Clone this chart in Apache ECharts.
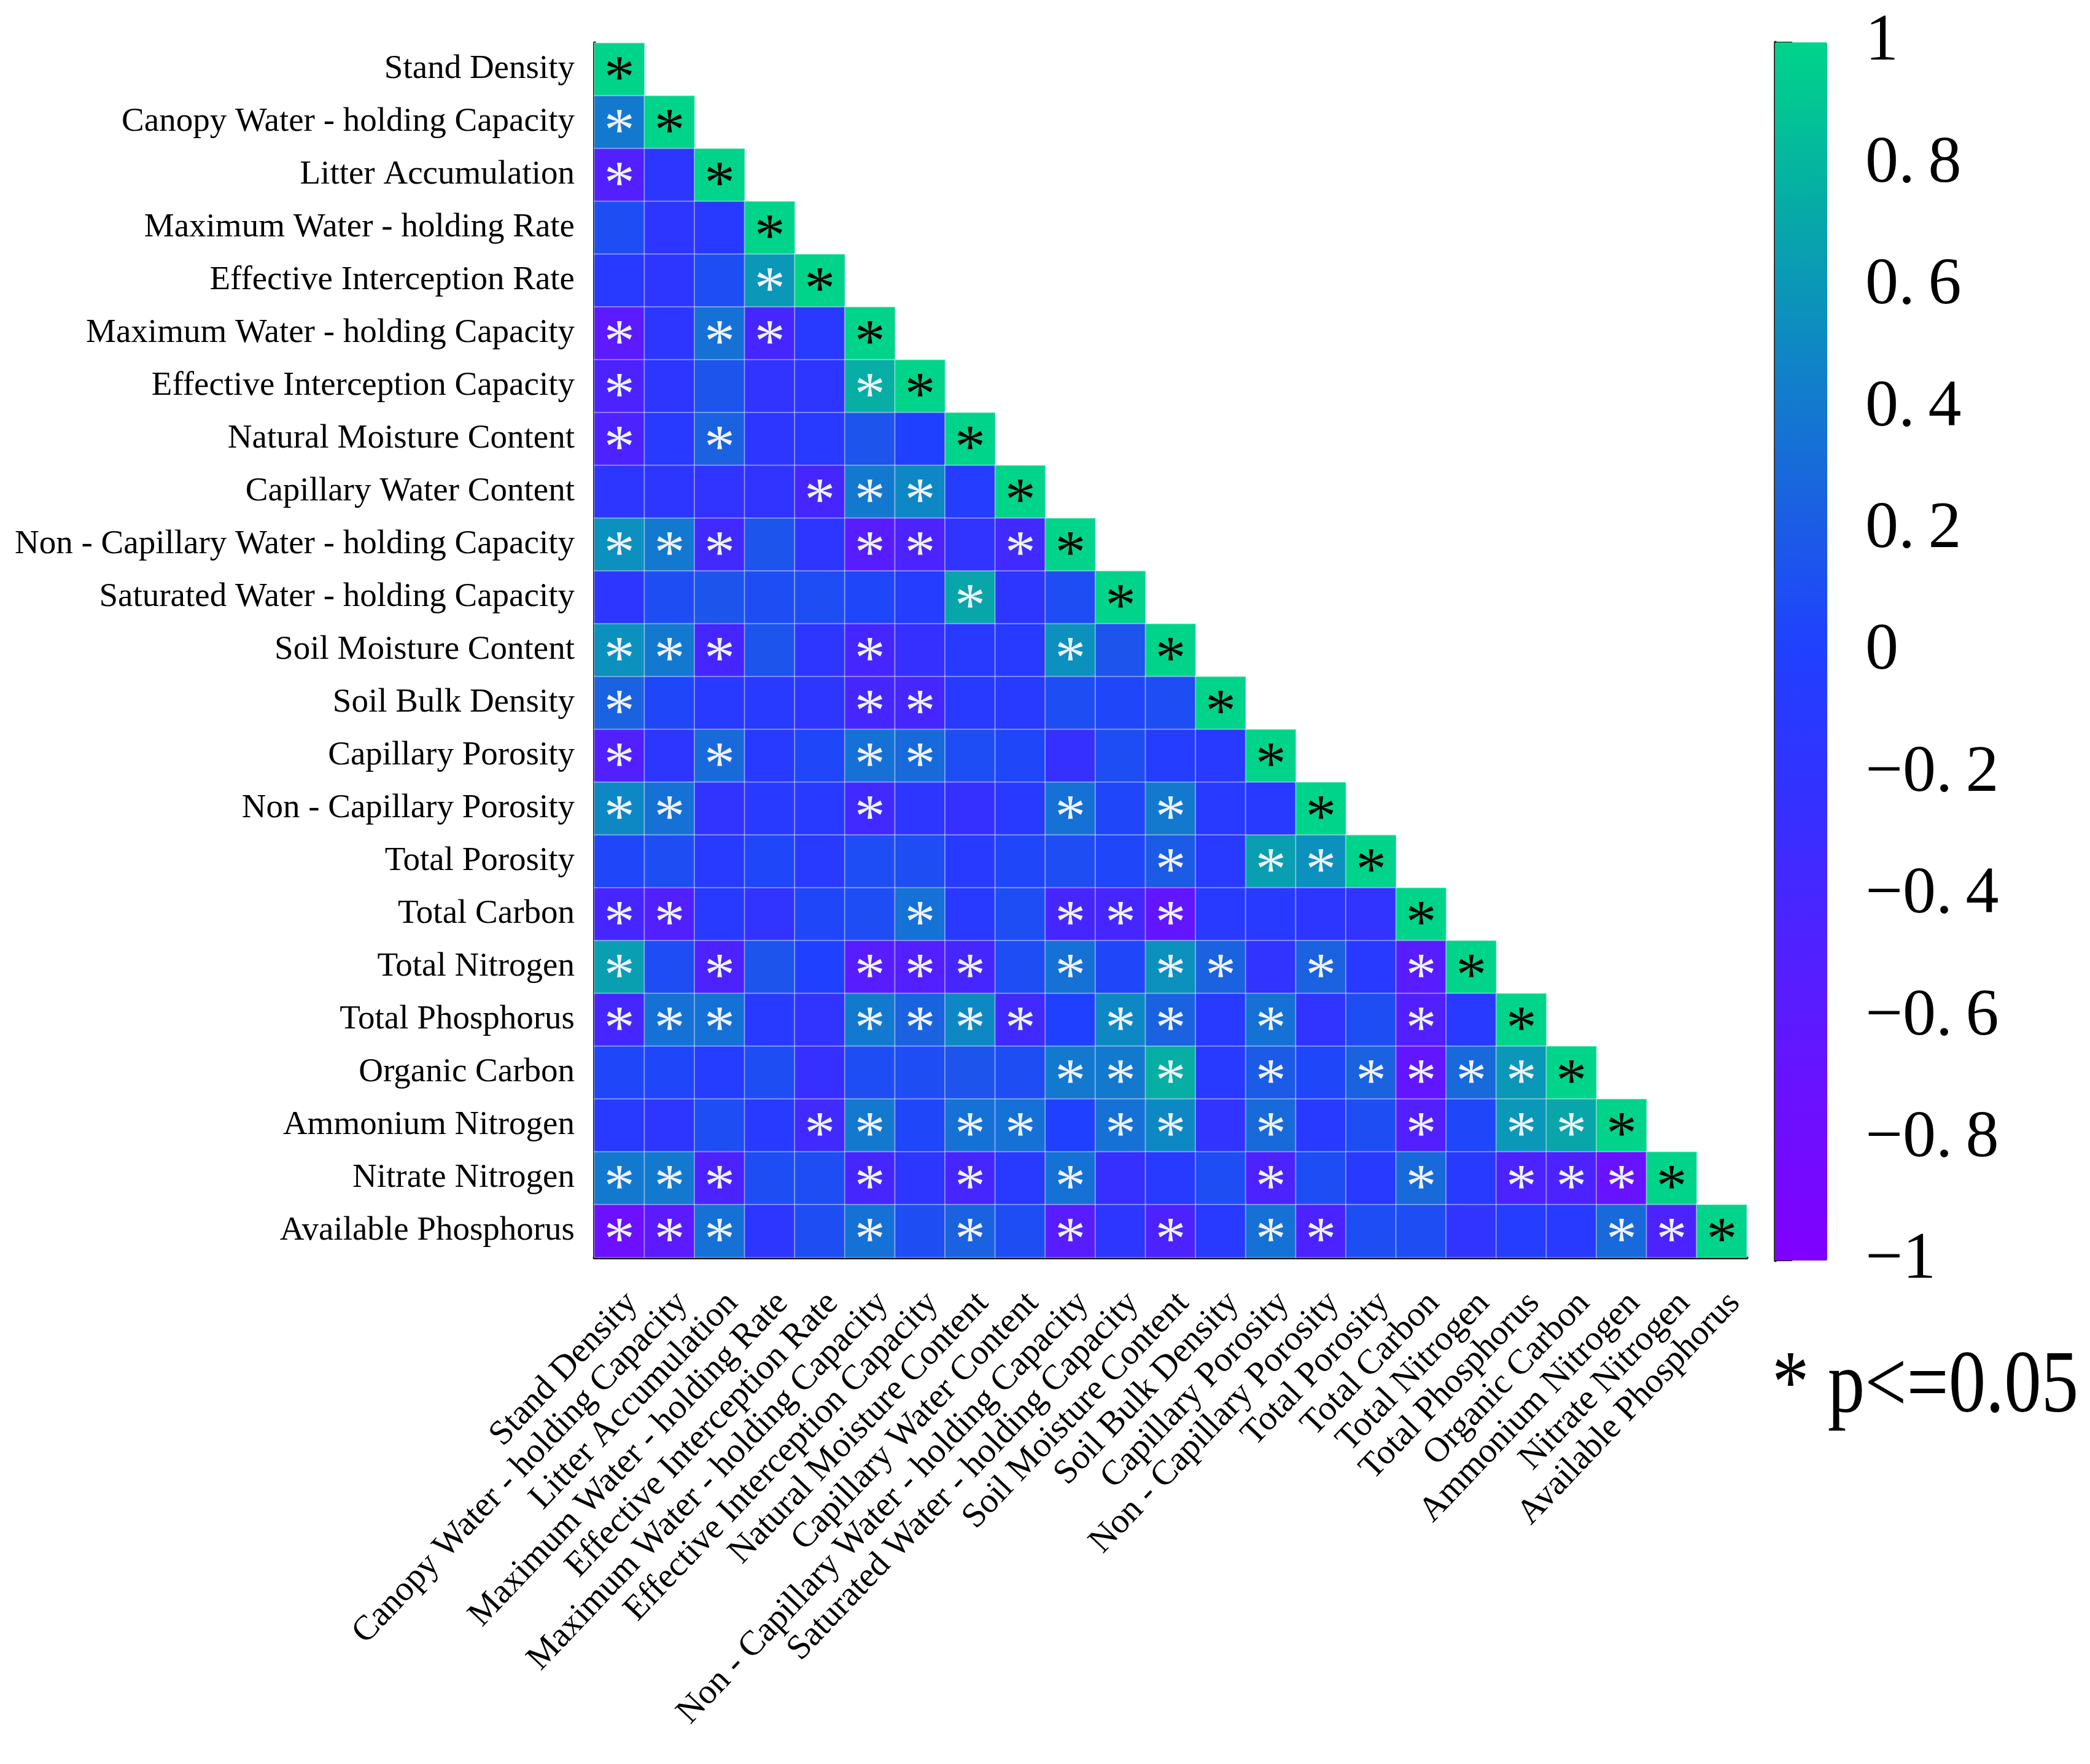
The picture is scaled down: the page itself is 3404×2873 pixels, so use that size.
<!DOCTYPE html>
<html>
<head>
<meta charset="utf-8">
<script src="https://cdn.jsdelivr.net/npm/echarts@6/dist/echarts.min.js"></script>
<style>
html,body{margin:0;padding:0;background:#fff;}
#c{width:3404px;height:2873px;}
</style>
</head>
<body>
<div id="c"></div>
<script>
const variables = [
  'Stand Density','Canopy Water - holding Capacity','Litter Accumulation','Maximum Water - holding Rate',
  'Effective Interception Rate','Maximum Water - holding Capacity','Effective Interception Capacity',
  'Natural Moisture Content','Capillary Water Content','Non - Capillary Water - holding Capacity',
  'Saturated Water - holding Capacity','Soil Moisture Content','Soil Bulk Density','Capillary Porosity',
  'Non - Capillary Porosity','Total Porosity','Total Carbon','Total Nitrogen','Total Phosphorus',
  'Organic Carbon','Ammonium Nitrogen','Nitrate Nitrogen','Available Phosphorus'
];

// lower-triangle correlation rows (row i has columns 0..i)
const corrRows = [
  [1],
  [0.4, 1],
  [-0.5, -0.15, 1],
  [0.1, -0.15, -0.1, 1],
  [-0.1, -0.15, 0.1, 0.6, 1],
  [-0.6, -0.15, 0.35, -0.4, -0.1, 1],
  [-0.45, -0.15, 0.15, -0.2, -0.15, 0.75, 1],
  [-0.45, -0.1, 0.25, -0.15, -0.1, 0.15, 0.0, 1],
  [-0.15, -0.15, -0.2, -0.2, -0.4, 0.4, 0.5, -0.05, 1],
  [0.55, 0.4, -0.35, 0.15, -0.15, -0.55, -0.45, -0.2, -0.35, 1],
  [-0.15, 0.1, 0.15, 0.1, 0.1, 0.05, -0.05, 0.7, -0.15, 0.1, 1],
  [0.55, 0.4, -0.4, 0.15, -0.15, -0.4, -0.25, -0.1, -0.1, 0.55, 0.15, 1],
  [0.25, 0.05, -0.1, -0.1, -0.15, -0.4, -0.4, -0.1, -0.1, 0.1, 0.05, 0.1, 1],
  [-0.5, -0.15, 0.3, -0.1, 0.05, 0.35, 0.3, 0.1, 0.05, -0.25, 0.1, -0.05, -0.1, 1],
  [0.5, 0.35, -0.2, -0.1, -0.1, -0.35, -0.15, -0.25, -0.1, 0.35, 0.05, 0.4, -0.1, -0.1, 1],
  [0.05, 0.1, -0.1, 0.05, -0.1, 0.1, 0.1, -0.1, 0.05, 0.1, 0.05, 0.2, -0.1, 0.65, 0.55, 1],
  [-0.4, -0.5, -0.1, -0.2, 0.05, 0.1, 0.35, -0.1, 0.1, -0.4, -0.4, -0.65, -0.1, -0.1, -0.15, -0.2, 1],
  [0.65, 0.1, -0.45, 0.15, 0, -0.55, -0.5, -0.4, 0.1, 0.35, 0.05, 0.55, 0.25, -0.2, 0.25, -0.1, -0.55, 1],
  [-0.4, 0.35, 0.35, -0.1, -0.2, 0.4, 0.25, 0.5, -0.35, 0, 0.5, 0.25, -0.1, 0.35, -0.2, 0.1, -0.5, -0.1, 1],
  [0.05, 0.05, -0.05, 0.1, -0.25, 0.1, 0.1, 0.15, 0.1, 0.4, 0.4, 0.75, -0.1, 0.2, 0.05, 0.25, -0.65, 0.3, 0.6, 1],
  [-0.1, -0.15, 0.1, -0.1, -0.35, 0.4, 0.05, 0.35, 0.35, 0, 0.35, 0.5, -0.2, 0.3, -0.1, 0.1, -0.5, 0.05, 0.6, 0.7, 1],
  [0.4, 0.4, -0.45, 0.1, 0.1, -0.4, -0.15, -0.4, -0.1, 0.35, -0.25, -0.1, 0.1, -0.45, 0.1, -0.1, 0.3, -0.1, -0.45, -0.45, -0.7, 1],
  [-0.75, -0.6, 0.35, -0.15, 0.1, 0.35, 0.1, 0.25, 0.1, -0.55, -0.15, -0.45, -0.1, 0.35, -0.45, 0.1, 0.1, -0.2, -0.05, -0.1, 0.3, -0.45, 1]
];

// significant (p<=0.05) column indices per row (diagonal always marked)
const sigCols = [
  [], [0], [0], [], [3], [0,2,3], [0,5], [0,2], [4,5,6], [0,1,2,5,6,8], [7],
  [0,1,2,5,9], [0,5,6], [0,2,5,6], [0,1,5,9,11], [11,13,14], [0,1,6,9,10,11],
  [0,2,5,6,7,9,11,12,14,16], [0,1,2,5,6,7,8,10,11,13,16], [9,10,11,13,15,16,17,18],
  [4,5,7,8,10,11,13,16,18,19], [0,1,2,5,7,9,13,16,18,19,20], [0,1,2,5,7,9,11,13,14,20,21]
];

const colorbarTicks = [-1,-0.8,-0.6,-0.4,-0.2,0,0.2,0.4,0.6,0.8,1];
const colorStops = ['#8000ff','#6c10ff','#5220ff','#3530ff','#2040ff','#1a62e0','#0e88c4','#06aea4','#00d48a'];

const data = [];
corrRows.forEach((row, i) => {
  row.forEach((v, j) => {
    const s = (i === j || sigCols[i].indexOf(j) >= 0) ? 1 : 0;
    data.push({
      value: [j, i, v, s],
      label: { color: i === j ? '#000000' : '#eef3ff' }
    });
  });
});

const FONT = 'Liberation Serif';
const chart = echarts.init(document.getElementById('c'), null, {renderer: 'canvas'});

function tickFmt(v) {
  const n = Math.round(v * 10);
  if (n === 0) return '0';
  if (n === 10) return '1';
  if (n === -10) return '\u22121';
  return (n < 0 ? '\u2212' : '') + '0.\u2009' + Math.abs(n);
}

chart.setOption({
  backgroundColor: '#ffffff',
  animation: false,
  grid: [
    {left: 968, top: 70, width: 1877, height: 1978},
    {left: 2891, top: 69, width: 85, height: 1984}
  ],
  xAxis: [
    {
      type: 'category', data: variables, gridIndex: 0, position: 'bottom',
      axisLine: {show: true, lineStyle: {color: '#000', width: 5}},
      axisTick: {show: false},
      splitLine: {show: false},
      axisLabel: {rotate: 46.5, interval: 0, fontSize: 57, fontFamily: FONT, color: '#000', margin: 46,
        verticalAlign: 'top'}
    },
    {type: 'value', gridIndex: 1, show: false, min: 0, max: 1}
  ],
  yAxis: [
    {
      type: 'category', data: variables, gridIndex: 0, inverse: true,
      axisLine: {show: true, lineStyle: {color: '#000', width: 5}},
      axisTick: {show: false},
      splitLine: {show: false},
      axisLabel: {interval: 0, fontSize: 55, fontFamily: FONT, color: '#000', margin: 32}
    },
    {
      type: 'value', gridIndex: 1, position: 'right', min: -1, max: 1, interval: 0.2,
      axisLine: {show: true, lineStyle: {color: '#000', width: 3}},
      axisTick: {show: true, inside: false, length: 28, lineStyle: {color: '#000', width: 2}},
      splitLine: {show: false},
      axisLabel: {fontSize: 108, fontFamily: FONT, color: '#000', margin: 62, formatter: tickFmt,
        customValues: colorbarTicks}
    },
    {
      type: 'value', gridIndex: 1, position: 'left', min: -1, max: 1,
      axisLine: {show: true, lineStyle: {color: '#333', width: 5}},
      axisTick: {show: false}, axisLabel: {show: false}, splitLine: {show: false}
    }
  ],
  visualMap: {
    type: 'continuous', min: -1, max: 1, dimension: 2, seriesIndex: 0,
    calculable: false, orient: 'vertical', left: 2891, top: 69,
    itemWidth: 85, itemHeight: 1984, padding: 0, text: null, showLabel: false,
    inRange: {color: colorStops}
  },
  series: [{
    type: 'heatmap', xAxisIndex: 0, yAxisIndex: 0, data: data,
    itemStyle: {borderColor: 'rgba(255,255,255,0.35)', borderWidth: 2},
    emphasis: {disabled: true},
    label: {
      show: true, fontSize: 100, fontFamily: FONT, offset: [0, 19],
      formatter: p => (p.data.value[3] ? '*' : '')
    }
  }],
  graphic: [{
    type: 'text', x: 2886, y: 2261, scaleX: 0.84, originX: 0, originY: 0,
    style: {text: '* p<=0.05', fontSize: 144, fontFamily: FONT, fill: '#000',
      align: 'left', verticalAlign: 'middle'}
  }]
});
</script>
</body>
</html>
